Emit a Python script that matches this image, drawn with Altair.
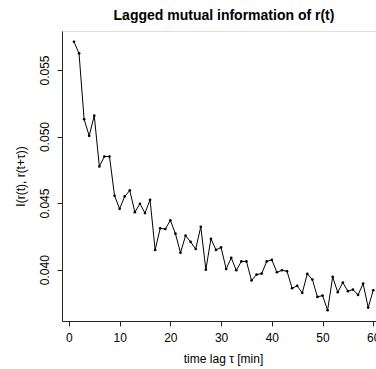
import altair as alt
import pandas as pd

tau = list(range(1, 61))
mi = [0.05712, 0.05625, 0.05130, 0.05005, 0.05157, 0.04775, 0.04850, 0.04850, 0.04555, 0.04457,
      0.04550, 0.04595, 0.04432, 0.04495, 0.04425, 0.04525, 0.04148, 0.04310, 0.04305, 0.04370,
      0.04270, 0.04127, 0.04255, 0.04208, 0.04155, 0.04322, 0.04000, 0.04232, 0.04148, 0.04167,
      0.04005, 0.04088, 0.03995, 0.04062, 0.04062, 0.03918, 0.03963, 0.03970, 0.04062, 0.04073,
      0.03980, 0.03995, 0.03988, 0.03860, 0.03878, 0.03825, 0.03968, 0.03925, 0.03795, 0.03805,
      0.03695, 0.03945, 0.03830, 0.03903, 0.03838, 0.03850, 0.03810, 0.03895, 0.03715, 0.03845]
x_ticks = [0, 10, 20, 30, 40, 50, 60]
y_ticks = [0.040, 0.045, 0.050, 0.055]

df = pd.DataFrame({"tau": tau, "mi": mi})
FONT = "Liberation Sans"

x_enc = alt.X("tau:Q", scale=alt.Scale(domain=[-1.36, 60.54], nice=False, zero=False),
              axis=alt.Axis(values=x_ticks, title="time lag τ [min]", grid=False,
                            tickSize=5, labelPadding=6, labelFontSize=12, labelFont=FONT,
                            titleFontSize=12, titleFont=FONT, titleFontWeight="normal",
                            titleX=161, titleY=41, titleAlign="center", titleBaseline="alphabetic",
                            domainColor="#222", tickColor="#222", labelColor="black", titleColor="black"))
y_enc = alt.Y("mi:Q", scale=alt.Scale(domain=[0.03614, 0.05793], nice=False, zero=False),
              axis=alt.Axis(values=y_ticks, format=".3f", title="I(r(t), r(t+τ))", grid=False,
                            tickSize=5, labelAngle=270, labelAlign="center", labelBaseline="alphabetic",
                            labelPadding=8.5, labelFontSize=12, labelFont=FONT,
                            titleFontSize=12, titleFont=FONT, titleFontWeight="normal",
                            titleAngle=270, titleX=-37.5, titleY=145, titleAlign="center",
                            titleBaseline="alphabetic",
                            domainColor="#222", tickColor="#222", labelColor="black", titleColor="black"))

base = alt.Chart(df).encode(x=x_enc, y=y_enc)
line = base.mark_line(color="black", strokeWidth=1)
pts = base.mark_point(filled=True, color="black", size=7, opacity=1)

chart = (line + pts).properties(
    width=314, height=290,
    autosize=alt.AutoSizeParams(type="none"),
    padding={"left": 62, "top": 31, "right": 0, "bottom": 48},
    title=alt.TitleParams("Lagged mutual information of r(t)", fontSize=14, fontWeight="bold",
                          font=FONT, anchor="middle", baseline="alphabetic", offset=10, dx=5, dy=13,
                          color="black"),
).configure_view(stroke="#666", strokeWidth=1).configure(background="white")

chart.save("out.html", embed_options={"renderer": "svg", "actions": False})
